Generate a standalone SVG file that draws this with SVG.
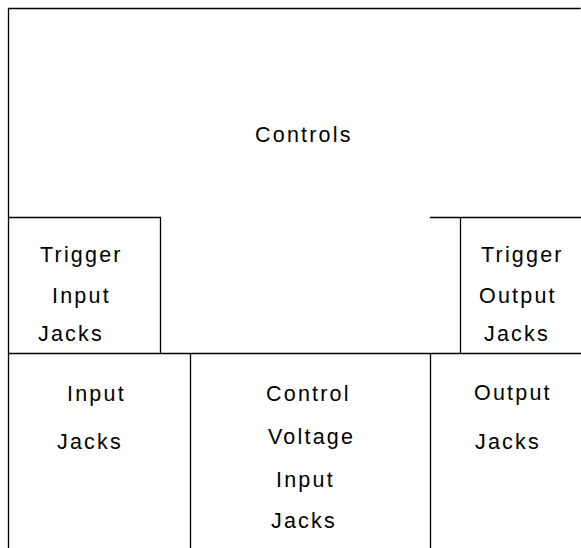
<svg xmlns="http://www.w3.org/2000/svg" width="581" height="548" viewBox="0 0 581 548">
<style>
.ln{stroke:#000;stroke-width:1.3;fill:none;stroke-linecap:square}
.t{font-family:"Liberation Sans",Arial,sans-serif;font-size:21.5px;letter-spacing:2.2px;fill:#000}
</style>
<rect width="581" height="548" fill="#fff"/>
<g id="connectors">
<path class="ln" d="M8.5,8.5 H580 M8.5,8.5 V548 M8.5,217.5 H160.5 V353.5 M430.5,217.5 H581 M460.5,217.5 V353.5 M8.5,353.5 H581 M190.5,353.5 V548 M430.5,353.5 V548"/>
</g>
<g id="controls"><text class="t" x="255" y="142">Controls</text></g>
<g id="trigger-input-jacks">
<text class="t" x="40" y="262">Trigger</text>
<text class="t" x="52" y="303">Input</text>
<text class="t" x="38" y="341">Jacks</text>
</g>
<g id="trigger-output-jacks">
<text class="t" x="481" y="262">Trigger</text>
<text class="t" x="479" y="303">Output</text>
<text class="t" x="484" y="341">Jacks</text>
</g>
<g id="input-jacks">
<text class="t" x="67" y="401">Input</text>
<text class="t" x="57" y="449">Jacks</text>
</g>
<g id="cv-input-jacks">
<text class="t" x="266" y="401">Control</text>
<text class="t" x="268" y="444">Voltage</text>
<text class="t" x="276" y="487">Input</text>
<text class="t" x="271" y="528">Jacks</text>
</g>
<g id="output-jacks">
<text class="t" x="474" y="400">Output</text>
<text class="t" x="475" y="449">Jacks</text>
</g>
</svg>
